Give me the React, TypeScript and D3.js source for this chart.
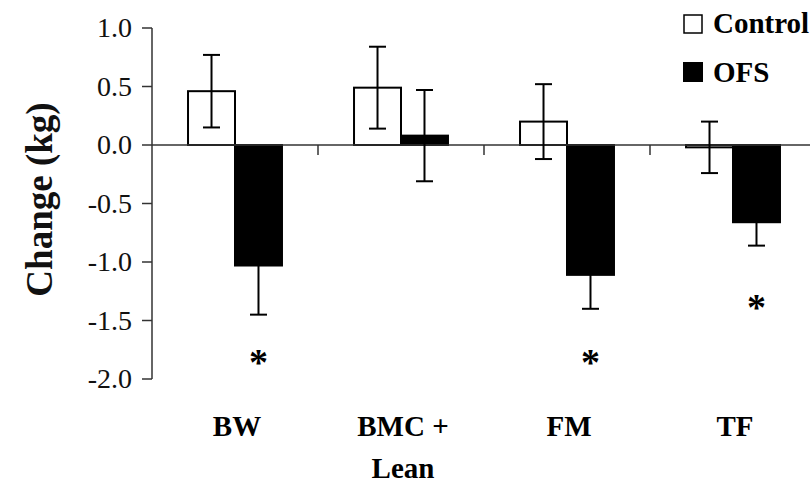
import React from "react";
import * as d3 from "d3";

const categories = ["BW", "BMC + Lean", "FM", "TF"];
const categoryLines = [["BW"], ["BMC +", "Lean"], ["FM"], ["TF"]];
const series = ["Control", "OFS"];
const controlMeans = [0.46, 0.49, 0.2, -0.02];
const controlSE = [0.31, 0.35, 0.32, 0.22];
const ofsMeans = [-1.03, 0.08, -1.11, -0.66];
const ofsSE = [0.42, 0.39, 0.29, 0.2];
// significance markers (y position of asterisk, null if none)
const ofsStar = [-1.82, null, -1.82, -1.35];
const yTicks = [1.0, 0.5, 0.0, -0.5, -1.0, -1.5, -2.0];

const W = 810;
const H = 484;
const FONT = "Times New Roman, Times, Tinos, Liberation Serif, DejaVu Serif, Noto Serif, serif";

export default function App() {
  const y = d3.scaleLinear().domain([-2, 1]).range([379, 28]);
  const x0 = d3.scaleBand<string>().domain(categories).range([152, 816]).paddingInner(0).paddingOuter(0);
  const bw = x0.bandwidth();
  const barW = bw * 0.283;
  const x1 = d3.scaleBand<string>().domain(series).range([bw / 2 - barW, bw / 2 + barW]).padding(0);

  const rows = categories.map((c, i) => ({
    c,
    vals: [
      { s: "Control", m: controlMeans[i], se: controlSE[i] },
      { s: "OFS", m: ofsMeans[i], se: ofsSE[i] },
    ],
    star: ofsStar[i],
  }));

  const axisColor = "#333";
  const y0 = y(0);
  const capW = 17;

  return (
    <div style={{ position: "absolute", left: 0, top: 0, width: W, height: H, fontFamily: FONT }}>
      <svg width={W} height={H} style={{ display: "block", background: "#fff" }}>
        <rect x={0} y={0} width={W} height={H} fill="#fff" />
        <g fontFamily={FONT}>
          {/* y axis */}
          <line x1={152} x2={152} y1={y(1)} y2={y(-2)} stroke={axisColor} strokeWidth={1.5} />
          {yTicks.map((t) => (
            <g key={t}>
              <line x1={142} x2={152} y1={y(t)} y2={y(t)} stroke={axisColor} strokeWidth={1.5} />
              <text x={132} y={y(t) + 9} textAnchor="end" fontSize={28} fill="#111">
                {t.toFixed(1)}
              </text>
            </g>
          ))}
          <text
            transform={`translate(52,${(y(1) + y(-2)) / 2 - 4}) rotate(-90)`}
            textAnchor="middle"
            fontSize={37}
            fontWeight="bold"
            fill="#111"
          >
            Change (kg)
          </text>

          {/* bars */}
          {rows.map((r) =>
            r.vals.map((v) => {
              const bx = (x0(r.c) as number) + (x1(v.s) as number);
              const top = Math.min(y(v.m), y0);
              const h = Math.abs(y(v.m) - y0);
              return (
                <rect
                  key={r.c + v.s}
                  x={bx}
                  y={top}
                  width={x1.bandwidth()}
                  height={h}
                  fill={v.s === "OFS" ? "#000" : "#fff"}
                  stroke="#000"
                  strokeWidth={2}
                />
              );
            })
          )}

          {/* x axis */}
          <line x1={152} x2={W} y1={y0} y2={y0} stroke={axisColor} strokeWidth={1.5} />
          {categories.slice(1).map((c) => (
            <line key={c} x1={x0(c) as number} x2={x0(c) as number} y1={y0} y2={y0 + 10} stroke={axisColor} strokeWidth={1.5} />
          ))}

          {/* error bars */}
          {rows.map((r) =>
            r.vals.map((v) => {
              const cx = (x0(r.c) as number) + (x1(v.s) as number) + x1.bandwidth() / 2;
              const hi = y(v.m + v.se);
              const lo = y(v.m - v.se);
              return (
                <g key={"e" + r.c + v.s} stroke="#000" strokeWidth={2}>
                  <line x1={cx} x2={cx} y1={hi} y2={lo} />
                  <line x1={cx - capW / 2} x2={cx + capW / 2} y1={hi} y2={hi} />
                  <line x1={cx - capW / 2} x2={cx + capW / 2} y1={lo} y2={lo} />
                </g>
              );
            })
          )}

          {/* asterisks */}
          {rows.map((r) =>
            r.star === null ? null : (
              <text
                key={"s" + r.c}
                x={(x0(r.c) as number) + (x1("OFS") as number) + x1.bandwidth() / 2}
                y={y(r.star) + 17}
                textAnchor="middle"
                fontSize={38}
                fontWeight="bold"
                fill="#000"
              >
                *
              </text>
            )
          )}

          {/* category labels */}
          {categoryLines.map((lines, i) => (
            <text
              key={"c" + i}
              x={(x0(categories[i]) as number) + bw / 2 + 2}
              y={436}
              textAnchor="middle"
              fontSize={29}
              fontWeight="bold"
              fill="#000"
            >
              {lines.map((l, j) => (
                <tspan key={j} x={(x0(categories[i]) as number) + bw / 2 + 2} dy={j === 0 ? 0 : 42}>
                  {l}
                </tspan>
              ))}
            </text>
          ))}

          {/* legend */}
          <rect x={684} y={15} width={18} height={18} fill="#fff" stroke="#000" strokeWidth={1.5} />
          <text x={713} y={33} fontSize={29} fontWeight="bold" fill="#000">
            {series[0]}
          </text>
          <rect x={683} y={62} width={20} height={20} fill="#000" />
          <text x={713} y={82} fontSize={29} fontWeight="bold" fill="#000">
            {series[1]}
          </text>
        </g>
      </svg>
    </div>
  );
}
